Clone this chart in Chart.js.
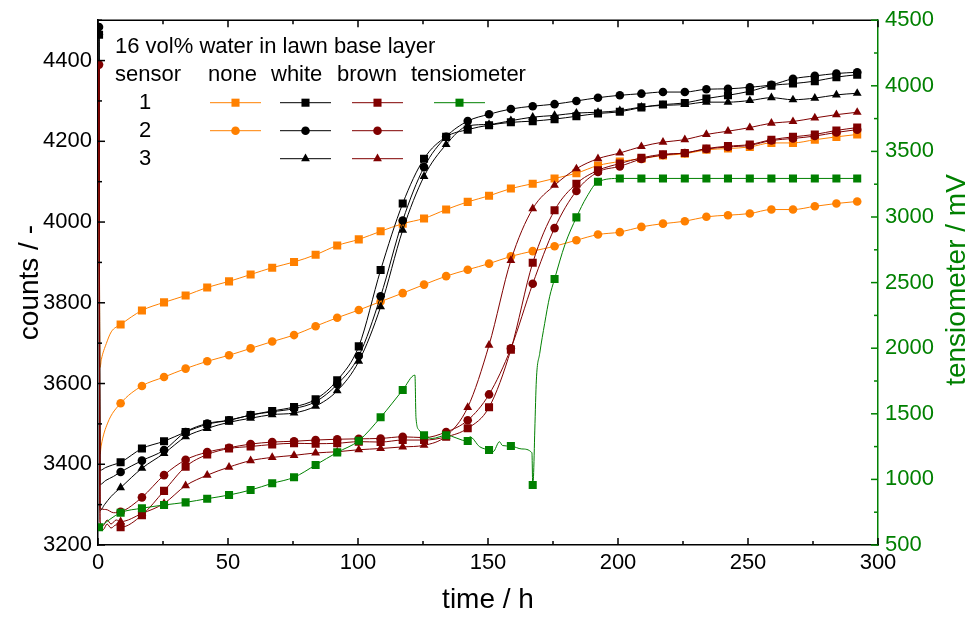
<!DOCTYPE html>
<html lang="en">
<head>
<meta charset="utf-8">
<title>counts vs time</title>
<style>
  html, body { margin: 0; padding: 0; background: #fff; }
  #wrap { position: relative; width: 967px; height: 617px; }
</style>
</head>
<body>
<div id="wrap"><canvas id="chart"></canvas></div>
<script src="https://cdn.jsdelivr.net/npm/chart.js"></script>
<script>
// marker times (h)
var times = [0.4, 8.7, 16.9, 25.4, 33.7, 42.0, 50.4, 58.7, 67.0, 75.4, 83.7, 92.0,
  100.3, 108.7, 117.2, 125.4, 133.9, 142.2, 150.4, 158.8, 167.2, 175.6, 184.0, 192.3,
  200.7, 209.0, 217.3, 225.7, 234.0, 242.3, 250.7, 259.0, 267.3, 275.7, 284.0, 292.0];

// counts at marker times
var none1 = [null, 3746, 3781, 3801, 3818, 3838, 3853, 3870, 3887, 3901, 3919, 3942,
  3957, 3977, 3996, 4009, 4031, 4050, 4065, 4083, 4095, 4108, 4121, 4140,
  4150, 4157, 4165, 4169, 4179, 4182, 4186, 4196, 4196, 4204, 4211, 4217];
var none2 = [null, 3551, 3594, 3616, 3637, 3655, 3670, 3687, 3704, 3720, 3742, 3763,
  3782, 3803, 3824, 3845, 3866, 3882, 3897, 3915, 3928, 3940, 3955, 3969,
  3975, 3988, 3996, 4002, 4013, 4017, 4021, 4031, 4031, 4039, 4046, 4051];
var white1 = [4464, 3405, 3439, 3457, 3480, 3499, 3509, 3522, 3532, 3542, 3561, 3608,
  3692, 3881, 4046, 4157, 4211, 4229, 4240, 4247, 4250, 4255, 4262, 4269,
  4273, 4284, 4291, 4295, 4306, 4314, 4324, 4338, 4343, 4349, 4359, 4365];
var white2 = [4483, 3381, 3409, 3435, 3480, 3501, 3509, 3522, 3530, 3538, 3555, 3598,
  3668, 3816, 4004, 4136, 4211, 4250, 4267, 4280, 4287, 4292, 4300, 4308,
  4314, 4318, 4322, 4322, 4329, 4330, 4334, 4340, 4355, 4362, 4368, 4371];
var white3 = [4470, 3342, 3390, 3427, 3468, 3489, 3504, 3514, 3523, 3527, 3544, 3582,
  3655, 3790, 3980, 4113, 4192, 4238, 4242, 4251, 4260, 4264, 4270, 4272,
  4276, 4285, 4289, 4291, 4297, 4297, 4301, 4308, 4303, 4307, 4315, 4319];
var brown1 = [null, 3244, 3274, 3334, 3394, 3424, 3439, 3444, 3449, 3452, 3451, 3452,
  3456, 3455, 3460, 3460, 3468, 3489, 3541, 3684, 3899, 4029, 4095, 4128,
  4145, 4159, 4168, 4171, 4182, 4188, 4192, 4204, 4211, 4217, 4227, 4234];
var brown2 = [4390, 3282, 3318, 3373, 3411, 3430, 3441, 3450, 3455, 3457, 3460, 3462,
  3463, 3464, 3468, 3466, 3480, 3509, 3573, 3687, 3847, 3985, 4077, 4124,
  4138, 4156, 4166, 4171, 4181, 4186, 4190, 4202, 4207, 4213, 4222, 4229];
var brown3 = [null, 3258, 3278, 3303, 3347, 3373, 3393, 3409, 3417, 3422, 3428, 3431,
  3436, 3439, 3443, 3447, 3470, 3541, 3695, 3905, 4033, 4091, 4132, 4157,
  4171, 4187, 4198, 4204, 4217, 4225, 4234, 4245, 4249, 4258, 4266, 4272];
// tensiometer (mV) at marker times
var tensio = [635, 746, 780, 805, 825, 853, 881, 919, 970, 1016, 1110, 1206,
  1295, 1473, 1681, 1336, 1336, 1292, 1224, 1254, 957, 2527, 2997, 3268,
  3294, 3294, 3294, 3294, 3294, 3294, 3294, 3294, 3294, 3294, 3294, 3294];

// extra points on the lines between markers [time, value]
var none1Extra = [[0.3, 4385], [0.8, 3640], [1.3, 3660], [3.2, 3699], [5.1, 3728]];
var none2Extra = [[0.3, 4380], [0.8, 3425], [1.2, 3445], [3.7, 3502]];
var white1Extra = [[0.8, 3385], [3, 3392], [5.5, 3398]];
var white2Extra = [[0.8, 3350], [3, 3360], [6, 3370]];
var white3Extra = [[0.8, 3285], [2.5, 3300], [5, 3320]];
var brown1Extra = [[0.3, 4388], [0.8, 3250], [2, 3238], [3.5, 3252], [5, 3242], [7, 3250]];
var brown2Extra = [[0.8, 3292], [3, 3288], [6, 3280]];
var brown3Extra = [[0.3, 4385], [0.8, 3258], [2, 3248], [3.5, 3262], [5, 3252], [7, 3262]];
var tensioExtra = [[121.9, 1795], [122.3, 1470], [123.5, 1376], [128.5, 1312], [143.0, 1325],
  [146.8, 1249], [152.0, 1212], [154.4, 1287], [155.6, 1258], [163.0, 1232], [166.9, 1203],
  [167.5, 1020], [168.0, 1376], [168.6, 1757], [169.9, 1961], [171.8, 2189], [173.7, 2392],
  [179.6, 2790], [188.0, 3154]];

// tick positions
var xMajor = [0, 50, 100, 150, 200, 250, 300];
var xMinor = [25, 75, 125, 175, 225, 275];
var yMajor = [3200, 3400, 3600, 3800, 4000, 4200, 4400];
var yMinor = [3300, 3500, 3700, 3900, 4100, 4300, 4500];
var rMajor = [500, 1000, 1500, 2000, 2500, 3000, 3500, 4000, 4500];
var rMinor = [750, 1250, 1750, 2250, 2750, 3250, 3750, 4250];

var FONT = 'Arial, "Liberation Sans", sans-serif';
var ORANGE = '#ff8000', BLACK = '#000000', BROWN = '#800000', GREEN = '#008000';

function buildPoints(marks, extra) {
  var pts = [];
  marks.forEach(function (v, i) {
    if (v !== null) pts.push({ x: times[i], y: v, m: true });
  });
  extra.forEach(function (p) { pts.push({ x: p[0], y: p[1], m: false }); });
  pts.sort(function (a, b) { return a.x - b.x; });
  return pts;
}

var sizes = { rect: 5.7, circle: 4.3, triangle: 5.1 };

function makeSet(label, marks, extra, color, style, order, axis) {
  var r = sizes[style];
  return {
    label: label,
    data: buildPoints(marks, extra),
    borderColor: color,
    backgroundColor: color,
    borderWidth: 1,
    pointStyle: style,
    pointBorderWidth: 0,
    pointRadius: function (c) { return c.raw && c.raw.m ? r : 0; },
    pointHoverRadius: function (c) { return c.raw && c.raw.m ? r : 0; },
    cubicInterpolationMode: 'monotone',
    order: order,
    yAxisID: axis || 'y'
  };
}

var datasets = [
  makeSet('none 1', none1, none1Extra, ORANGE, 'rect', 3),
  makeSet('none 2', none2, none2Extra, ORANGE, 'circle', 3),
  makeSet('white 1', white1, white1Extra, BLACK, 'rect', 2),
  makeSet('white 2', white2, white2Extra, BLACK, 'circle', 2),
  makeSet('white 3', white3, white3Extra, BLACK, 'triangle', 2),
  makeSet('brown 1', brown1, brown1Extra, BROWN, 'rect', 1),
  makeSet('brown 2', brown2, brown2Extra, BROWN, 'circle', 1),
  makeSet('brown 3', brown3, brown3Extra, BROWN, 'triangle', 1),
  makeSet('tensiometer', tensio, tensioExtra, GREEN, 'rect', 0, 'y2')
];

// legend table: [column x of sample start, row y, dataset index]
var legendRows = [
  [210, 102.7, 0], [210, 130.7, 1],
  [280, 102.7, 2], [280, 130.7, 3], [280, 158.7, 4],
  [352, 102.7, 5], [352, 130.7, 6], [352, 158.7, 7],
  [434, 102.7, 8]
];

var legendPlugin = {
  id: 'tableLegend',
  afterDraw: function (chart) {
    var ctx = chart.ctx;
    ctx.save();
    ctx.fillStyle = '#000';
    ctx.font = '22px ' + FONT;
    ctx.textBaseline = 'middle';
    ctx.textAlign = 'left';
    ctx.fillText('16 vol% water in lawn base layer', 115, 47);
    ctx.fillText('sensor', 115, 75);
    ctx.fillText('none', 208, 75);
    ctx.fillText('white', 271, 75);
    ctx.fillText('brown', 337, 75);
    ctx.fillText('tensiometer', 411, 75);
    ctx.textAlign = 'center';
    ctx.fillText('1', 145, 102.7);
    ctx.fillText('2', 145, 130.7);
    ctx.fillText('3', 145, 158.7);

    legendRows.forEach(function (row) {
      var ds = chart.data.datasets[row[2]];
      var x0 = row[0], y = row[1];
      ctx.strokeStyle = ds.borderColor;
      ctx.fillStyle = ds.backgroundColor;
      ctx.lineWidth = 1;
      ctx.beginPath();
      ctx.moveTo(x0, y);
      ctx.lineTo(x0 + 51, y);
      ctx.stroke();
      Chart.helpers.drawPoint(ctx, {
        pointStyle: ds.pointStyle, radius: sizes[ds.pointStyle], rotation: 0, borderWidth: 0
      }, x0 + 25.5, y);
    });
    ctx.restore();
  }
};

var framePlugin = {
  id: 'frame',
  afterDraw: function (chart) {
    var ctx = chart.ctx, a = chart.chartArea;
    var xs = chart.scales.x, yl = chart.scales.y, yr = chart.scales.y2;
    ctx.save();
    ctx.lineWidth = 1.5;
    ctx.strokeStyle = '#000';
    ctx.beginPath();
    ctx.moveTo(a.left, a.top);
    ctx.lineTo(a.right, a.top);
    ctx.stroke();

    function xt(vals, len) {
      vals.forEach(function (v) {
        var p = xs.getPixelForValue(v);
        ctx.beginPath();
        ctx.moveTo(p, a.bottom); ctx.lineTo(p, a.bottom - len);
        ctx.moveTo(p, a.top); ctx.lineTo(p, a.top + len);
        ctx.stroke();
      });
    }
    function lt(vals, len) {
      vals.forEach(function (v) {
        var p = yl.getPixelForValue(v);
        ctx.beginPath();
        ctx.moveTo(a.left, p); ctx.lineTo(a.left + len, p);
        ctx.stroke();
      });
    }
    function rt(vals, len) {
      vals.forEach(function (v) {
        var p = yr.getPixelForValue(v);
        ctx.beginPath();
        ctx.moveTo(a.right, p); ctx.lineTo(a.right - len, p);
        ctx.stroke();
      });
    }
    xt(xMajor, 7); xt(xMinor, 4);
    lt(yMajor, 7); lt(yMinor, 4);
    ctx.strokeStyle = GREEN;
    rt(rMajor, 7); rt(rMinor, 4);

    // right axis title, reading upwards
    ctx.translate(957, 280);
    ctx.rotate(-Math.PI / 2);
    ctx.fillStyle = GREEN;
    ctx.font = '28px ' + FONT;
    ctx.textAlign = 'center';
    ctx.textBaseline = 'middle';
    ctx.fillText('tensiometer / mV', 0, 0);
    ctx.restore();
  }
};

function plain(v) { return String(v); }

new Chart(document.getElementById('chart'), {
  type: 'line',
  data: { datasets: datasets },
  options: {
    responsive: true,
    maintainAspectRatio: false,
    animation: false,
    layout: { padding: { top: 20, left: 0, right: 0, bottom: 0 } },
    plugins: { legend: { display: false }, tooltip: { enabled: false } },
    scales: {
      x: {
        type: 'linear', min: 0, max: 300,
        grid: { display: false, drawTicks: false },
        border: { display: true, color: '#000', width: 1.5 },
        ticks: { stepSize: 50, padding: 5, color: '#000', font: { family: FONT, size: 22 }, maxRotation: 0, callback: plain },
        title: { display: true, text: 'time / h', color: '#000', font: { family: FONT, size: 28 }, padding: { top: 0, bottom: 0 } },
        afterFit: function (s) { s.height = 72; }
      },
      y: {
        type: 'linear', position: 'left', min: 3200, max: 4500,
        grid: { display: false, drawTicks: false },
        border: { display: true, color: '#000', width: 1.5 },
        ticks: { stepSize: 200, includeBounds: false, padding: 6, color: '#000', font: { family: FONT, size: 22 }, callback: plain },
        title: { display: true, text: 'counts / -', color: '#000', font: { family: FONT, size: 28 }, padding: { top: 13, bottom: 0 } },
        afterFit: function (s) { s.width = 98; }
      },
      y2: {
        type: 'linear', position: 'right', min: 500, max: 4500,
        grid: { display: false, drawTicks: false },
        border: { display: true, color: GREEN, width: 1.5 },
        ticks: { stepSize: 500, padding: 7, color: GREEN, font: { family: FONT, size: 22 }, callback: plain },
        afterFit: function (s) { s.width = 89; }
      }
    }
  },
  plugins: [legendPlugin, framePlugin]
});
</script>
</body>
</html>
